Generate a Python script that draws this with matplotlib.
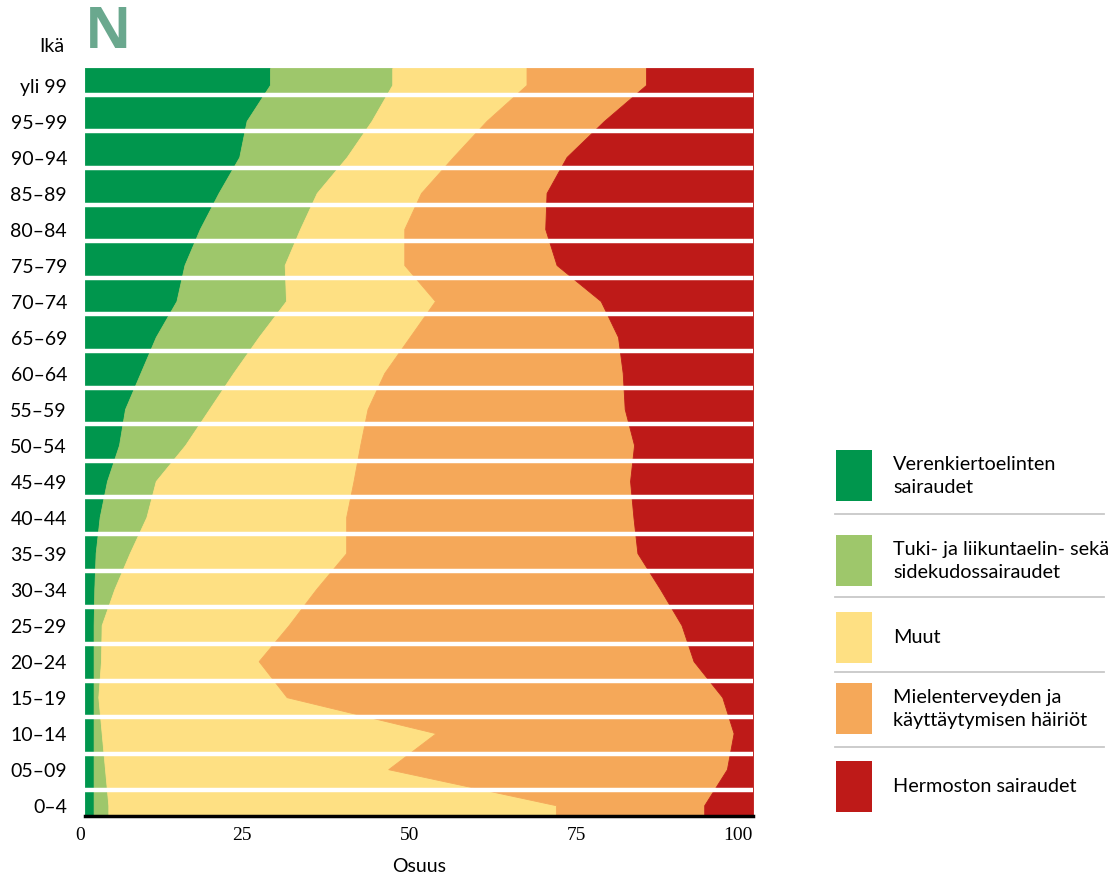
import numpy as np
import matplotlib.pyplot as plt
from matplotlib.patches import Rectangle

# age groups, bottom to top
ages = ['0–4', '05–09', '10–14', '15–19', '20–24', '25–29', '30–34', '35–39',
        '40–44', '45–49', '50–54', '55–59', '60–64', '65–69', '70–74', '75–79',
        '80–84', '85–89', '90–94', '95–99', 'yli 99']

# shares (%) per age group
verenkierto = [1.3, 1.3, 1.3, 1.3, 1.3, 1.3, 1.4, 1.6, 2.2, 3.3, 5.1, 6.0, 8.3,
               10.6, 13.7, 14.9, 17.2, 20.0, 23.1, 24.2, 27.7]
tuki = [2.2, 1.7, 1.2, 0.7, 1.1, 1.2, 3.0, 5.1, 7.0, 7.3, 9.9, 12.6, 13.9,
        15.4, 16.4, 15.0, 15.0, 14.7, 16.1, 18.7, 18.3]
muut = [67.0, 42.4, 50.0, 28.2, 23.6, 28.0, 30.2, 32.4, 29.9, 29.6, 26.2, 23.7,
        22.6, 22.6, 22.3, 17.9, 15.6, 15.6, 15.9, 17.2, 20.1]
mieli = [22.2, 50.7, 44.6, 65.2, 65.1, 58.8, 51.5, 43.6, 43.0, 41.4, 41.0, 38.5,
         35.7, 31.2, 24.8, 22.8, 21.1, 18.8, 17.0, 17.6, 17.9]
hermosto = [7.3, 3.9, 2.9, 4.6, 8.9, 10.7, 13.9, 17.3, 17.9, 18.4, 17.8, 19.2,
            19.5, 20.2, 22.8, 29.4, 31.1, 30.9, 27.9, 22.3, 16.0]

labels = ['Verenkiertoelinten\nsairaudet',
          'Tuki- ja liikuntaelin- sekä\nsidekudossairaudet',
          'Muut',
          'Mielenterveyden ja\nkäyttäytymisen häiriöt',
          'Hermoston sairaudet']
colors = ['#00964d', '#9ec76b', '#fee083', '#f5a859', '#be1a18']
xticks = [0, 25, 50, 75, 100]

sans = ['Lato', 'DejaVu Sans']

fig = plt.figure(figsize=(11.18, 8.79), dpi=100)
ax = fig.add_axes([0.076, 0.0705, 0.5975, 0.851])

y = np.arange(len(ages))
ylo, yhi = -0.3, len(ages) - 1 + 0.47
yy = np.r_[ylo, y, yhi]


def pad(a):
    return np.r_[a[0], a, a[-1]]


left = np.zeros(len(ages))
for vals, col in zip([verenkierto, tuki, muut, mieli, hermosto], colors):
    right = left + np.array(vals)
    ax.fill_betweenx(yy, pad(left), pad(right), color=col, lw=0.6, ec=col)
    left = right

# white separators between rows (spaced a little wider than the data rows)
for ys in np.linspace(0.41, 19.73, len(ages) - 1):
    ax.axhline(ys, color='white', lw=3.2)

ax.set_xlim(0, 100)
ax.set_ylim(ylo, yhi)
for s in ['top', 'right', 'left']:
    ax.spines[s].set_visible(False)
ax.spines['bottom'].set_linewidth(2.5)
ax.spines['bottom'].set_color('black')

ax.set_yticks(y)
ax.set_yticklabels(ages, family=sans, fontsize=14)
ax.tick_params(axis='y', length=0, pad=13)
ax.set_xticks(xticks)
ax.set_xticklabels([str(t) for t in xticks], family='Liberation Serif',
                   fontsize=14, ha='right')
ax.tick_params(axis='x', length=0, pad=7)
ax.set_xlabel('Osuus', family=sans, fontsize=14, labelpad=10)

fig.text(52 / 1118, 1 - 47 / 879, 'Ikä', family=sans, fontsize=14,
         ha='center', va='center')
fig.text(108 / 1118, 1 - 33 / 879, 'N', family=['Open Sans', 'DejaVu Sans'],
         fontsize=41, fontweight='bold', color='#6aa88e', ha='center',
         va='center')

# legend drawn by hand in pixel coordinates
lax = fig.add_axes([0, 0, 1, 1])
lax.set_xlim(0, 1118)
lax.set_ylim(879, 0)
lax.axis('off')
leg_y = [476, 561, 638, 709, 787]
sep_y = [515, 598, 673, 748]
for yc, lab, col in zip(leg_y, labels, colors):
    lax.add_patch(Rectangle((836, yc - 25.5), 36, 51, color=col, lw=0))
    lax.text(893, yc, lab, family=sans, fontsize=14.3, va='center', ha='left',
             linespacing=1.42)
for ys in sep_y:
    lax.plot([835, 1104], [ys, ys], color='#c8c8c8', lw=1.3)

fig.savefig('out.png', dpi=100)
